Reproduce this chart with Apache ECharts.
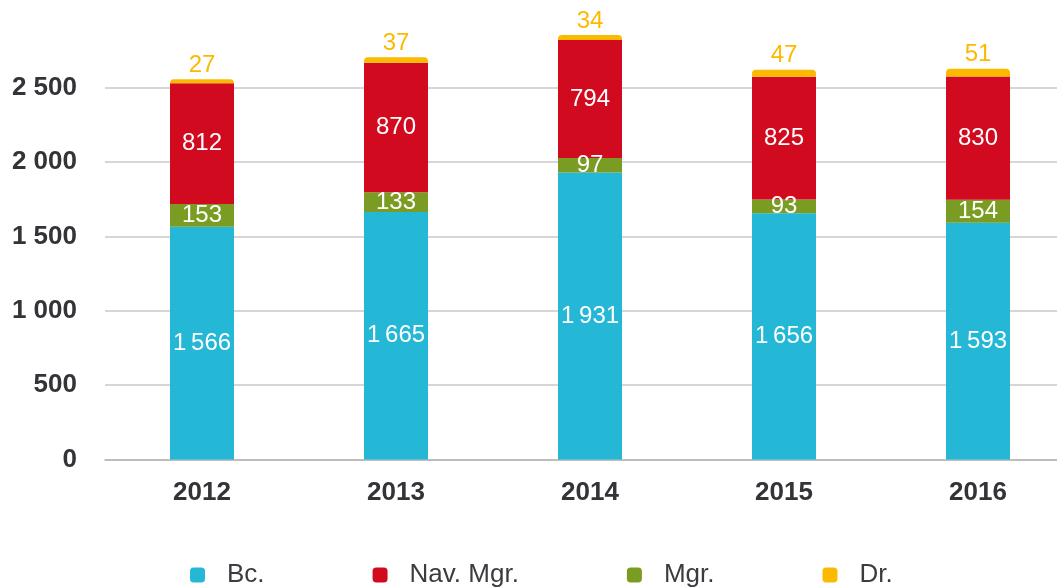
<!DOCTYPE html>
<html>
<head>
<meta charset="utf-8">
<script src="https://cdn.jsdelivr.net/npm/echarts@6/dist/echarts.min.js"></script>
<style>
	html, body { margin: 0; padding: 0; background: #fff; }
	#chart { width: 1057px; height: 587px; }
</style>
</head>
<body>
<div id="chart"></div>
<script>
var years = ["2012", "2013", "2014", "2015", "2016"];
var bc = [1566, 1665, 1931, 1656, 1593];
var mgr = [153, 133, 97, 93, 154];
var navMgr = [812, 870, 794, 825, 830];
var dr = [27, 37, 34, 47, 51];
var legendOrder = ["Bc.", "Nav. Mgr.", "Mgr.", "Dr."];

var FONT = "'Liberation Sans', Arial, Helvetica, sans-serif";

// 1566 -> "1 566" (thin space inside bars)
function fmt(v, sep) {
	return String(v).replace(/\B(?=(\d{3})+(?!\d))/g, sep);
}

var myChart = echarts.init(document.getElementById("chart"));

function barSeries(name, data, color, extra) {
	var s = {
		name: name,
		type: 'bar',
		stack: 'total',
		barWidth: 64,
		data: data,
		itemStyle: { color: color },
		label: {
			show: true,
			position: 'inside',
			color: '#fff',
			fontSize: 24,
			fontFamily: FONT,
			formatter: function (p) { return fmt(p.value, '\u2009'); }
		}
	};
	if (extra) extra(s);
	return s;
}

var option = {
	backgroundColor: '#fff',
	animation: false,
	grid: {
		left: 105,
		top: 13.5,
		width: 970,
		bottom: 127.5,
		outerBoundsMode: 'none'
	},
	legend: {
		data: legendOrder,
		left: 185,
		top: 557,
		icon: 'roundRect',
		itemWidth: 15,
		itemHeight: 15,
		itemGap: 108,
		textStyle: {
			fontSize: 26,
			color: '#3b3b40',
			fontFamily: FONT,
			padding: [0, 0, 0, 17]
		}
	},
	xAxis: {
		type: 'category',
		data: years,
		axisTick: { show: false },
		axisLine: { lineStyle: { color: '#b5b5b5', width: 1.5 } },
		axisLabel: {
			margin: 20,
			fontSize: 26,
			fontWeight: 'bold',
			color: '#333338',
			fontFamily: FONT
		}
	},
	yAxis: {
		type: 'value',
		min: 0,
		max: 3000,
		interval: 500,
		axisLine: { show: false },
		axisTick: { show: false },
		splitLine: {
			showMaxLine: false,
			lineStyle: { color: '#c8c8c8', width: 1.5 }
		},
		axisLabel: {
			margin: 28,
			showMaxLabel: false,
			fontSize: 26,
			fontWeight: 'bold',
			color: '#333338',
			fontFamily: FONT,
			formatter: function (v) { return fmt(v, ' '); }
		}
	},
	series: [
		barSeries('Bc.', bc, '#24b7d6'),
		barSeries('Mgr.', mgr, '#7b9c23'),
		barSeries('Nav. Mgr.', navMgr, '#d20a20'),
		barSeries('Dr.', dr, '#fbba00', function (s) {
			s.itemStyle.borderRadius = [4, 4, 0, 0];
			s.label.position = 'top';
			s.label.distance = 2;
			s.label.color = '#fbba00';
		})
	]
};

myChart.setOption(option);
</script>
</body>
</html>
